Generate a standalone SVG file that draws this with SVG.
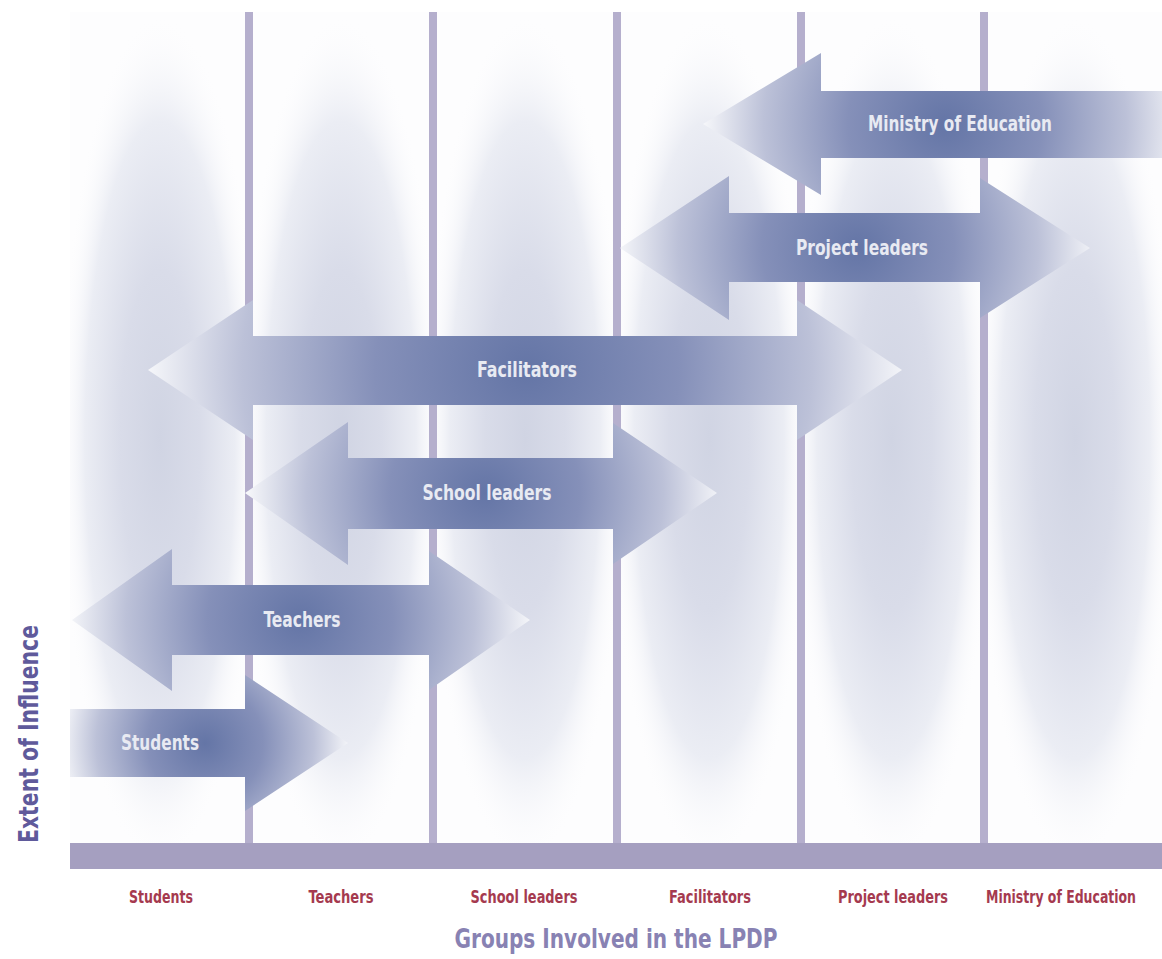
<svg xmlns="http://www.w3.org/2000/svg" width="1162" height="959" viewBox="0 0 1162 959">
<style>
.vline{fill:#b5afcd}
.base{fill:#a59fc0}
.glow{fill:url(#glowG)}
.atext{font-family:"DejaVu Sans Condensed","DejaVu Sans",sans-serif;font-weight:bold;font-size:21px;fill:#e8eaf2;text-anchor:middle}
.xlab{font-family:"DejaVu Sans Condensed","DejaVu Sans",sans-serif;font-weight:bold;font-size:17px;fill:#a53a4f;text-anchor:middle}
.title{font-family:"DejaVu Sans Condensed","DejaVu Sans",sans-serif;font-weight:bold;font-size:27px;text-anchor:middle}
</style>
<defs>
<radialGradient id="glowG" cx="0.5" cy="0.5" r="0.5">
<stop offset="0" stop-color="#d0d4e3"/>
<stop offset="0.4" stop-color="#d9dce9"/>
<stop offset="0.75" stop-color="#ebedf4"/>
<stop offset="1" stop-color="#fdfdfe" stop-opacity="0"/>
</radialGradient>
<clipPath id="bgclip"><rect x="70" y="12" width="1092" height="831"/></clipPath>
<radialGradient id="gStu" gradientUnits="userSpaceOnUse" cx="205" cy="743" r="145">
<stop offset="0" stop-color="#6475a6"/><stop offset="0.4" stop-color="#8590b9"/><stop offset="0.75" stop-color="#bcc1d8"/><stop offset="1" stop-color="#f6f7fa"/>
</radialGradient>
<radialGradient id="gTea" gradientUnits="userSpaceOnUse" cx="300" cy="620" r="232">
<stop offset="0" stop-color="#6475a6"/><stop offset="0.4" stop-color="#8590b9"/><stop offset="0.75" stop-color="#bcc1d8"/><stop offset="1" stop-color="#f6f7fa"/>
</radialGradient>
<radialGradient id="gSch" gradientUnits="userSpaceOnUse" cx="485" cy="493" r="238">
<stop offset="0" stop-color="#6475a6"/><stop offset="0.4" stop-color="#8590b9"/><stop offset="0.75" stop-color="#bcc1d8"/><stop offset="1" stop-color="#f6f7fa"/>
</radialGradient>
<radialGradient id="gFac" gradientUnits="userSpaceOnUse" cx="527" cy="370" r="380">
<stop offset="0" stop-color="#6475a6"/><stop offset="0.4" stop-color="#8590b9"/><stop offset="0.75" stop-color="#bcc1d8"/><stop offset="1" stop-color="#f6f7fa"/>
</radialGradient>
<radialGradient id="gPro" gradientUnits="userSpaceOnUse" cx="858" cy="248" r="240">
<stop offset="0" stop-color="#6475a6"/><stop offset="0.4" stop-color="#8590b9"/><stop offset="0.75" stop-color="#bcc1d8"/><stop offset="1" stop-color="#f6f7fa"/>
</radialGradient>
<radialGradient id="gMin" gradientUnits="userSpaceOnUse" cx="945" cy="124" r="242">
<stop offset="0" stop-color="#6475a6"/><stop offset="0.4" stop-color="#8590b9"/><stop offset="0.75" stop-color="#bcc1d8"/><stop offset="1" stop-color="#f6f7fa"/>
</radialGradient>
</defs>
<rect width="1162" height="959" fill="#ffffff"/>
<g id="background" clip-path="url(#bgclip)">
<rect x="70" y="12" width="1092" height="831" fill="#fdfdfe"/>
<ellipse class="glow" cx="160" cy="440" rx="100" ry="425"/>
<ellipse class="glow" cx="341" cy="440" rx="100" ry="425"/>
<ellipse class="glow" cx="525" cy="440" rx="100" ry="425"/>
<ellipse class="glow" cx="709" cy="440" rx="100" ry="425"/>
<ellipse class="glow" cx="892" cy="440" rx="100" ry="425"/>
<ellipse class="glow" cx="1075" cy="440" rx="100" ry="425"/>
</g>
<g id="axes">
<rect class="vline" x="245" y="12" width="8" height="832"/>
<rect class="vline" x="429" y="12" width="8" height="832"/>
<rect class="vline" x="613" y="12" width="8" height="832"/>
<rect class="vline" x="797" y="12" width="8" height="832"/>
<rect class="vline" x="980" y="12" width="8" height="832"/>
<rect class="base" x="70" y="843" width="1092" height="26"/>
</g>
<g id="connectors">
<g id="arrow-ministry">
<polygon points="703,124 821,53 821,91 1162,91 1162,158 821,158 821,195" fill="url(#gMin)"/>
<text class="atext" x="960" y="131" textLength="184" lengthAdjust="spacingAndGlyphs">Ministry of Education</text>
</g>
<g id="arrow-project">
<polygon points="620,248 729,176 729,213 980,213 980,178 1090,248 980,318 980,282 729,282 729,320" fill="url(#gPro)"/>
<text class="atext" x="862" y="255" textLength="132" lengthAdjust="spacingAndGlyphs">Project leaders</text>
</g>
<g id="arrow-facilitators">
<polygon points="148,370 253,300 253,336 797,336 797,300 902,370 797,440 797,405 253,405 253,440" fill="url(#gFac)"/>
<text class="atext" x="527" y="377" textLength="100" lengthAdjust="spacingAndGlyphs">Facilitators</text>
</g>
<g id="arrow-school">
<polygon points="245,493 348,422 348,458 613,458 613,423 717,493 613,564 613,529 348,529 348,565" fill="url(#gSch)"/>
<text class="atext" x="487" y="500" textLength="129" lengthAdjust="spacingAndGlyphs">School leaders</text>
</g>
<g id="arrow-teachers">
<polygon points="72,620 172,549 172,585 429,585 429,551 530,620 429,690 429,655 172,655 172,691" fill="url(#gTea)"/>
<text class="atext" x="302" y="627" textLength="77" lengthAdjust="spacingAndGlyphs">Teachers</text>
</g>
<g id="arrow-students">
<polygon points="70,709 245,709 245,675 348,743 245,811 245,777 70,777" fill="url(#gStu)"/>
<text class="atext" x="160" y="750" textLength="78" lengthAdjust="spacingAndGlyphs">Students</text>
</g>
</g>
<g id="labels">
<text class="xlab" x="161" y="903" textLength="64" lengthAdjust="spacingAndGlyphs">Students</text>
<text class="xlab" x="341" y="903" textLength="65" lengthAdjust="spacingAndGlyphs">Teachers</text>
<text class="xlab" x="524" y="903" textLength="107" lengthAdjust="spacingAndGlyphs">School leaders</text>
<text class="xlab" x="710" y="903" textLength="82" lengthAdjust="spacingAndGlyphs">Facilitators</text>
<text class="xlab" x="893" y="903" textLength="110" lengthAdjust="spacingAndGlyphs">Project leaders</text>
<text class="xlab" x="1061" y="903" textLength="150" lengthAdjust="spacingAndGlyphs">Ministry of Education</text>
<text class="title" x="616" y="948" fill="#8882b3" textLength="323" lengthAdjust="spacingAndGlyphs">Groups Involved in the LPDP</text>
<text class="title" transform="translate(38,734) rotate(-90)" x="0" y="0" fill="#5f5a9b" textLength="218" lengthAdjust="spacingAndGlyphs">Extent of Influence</text>
</g>
</svg>
